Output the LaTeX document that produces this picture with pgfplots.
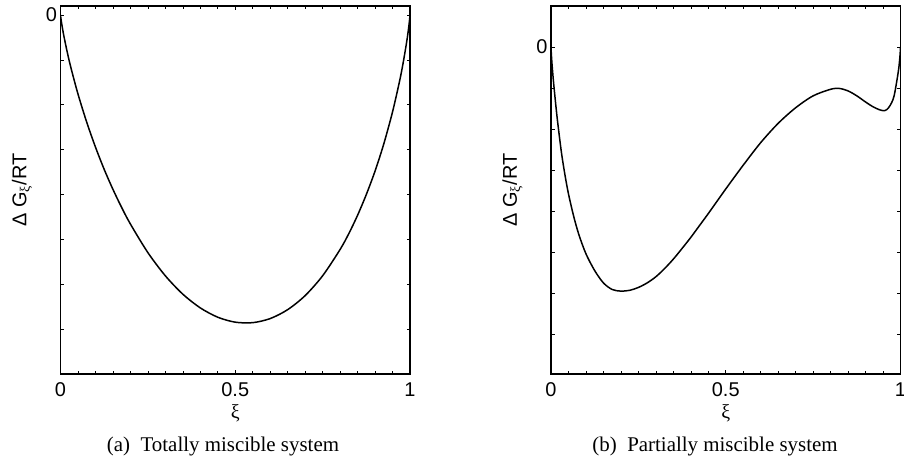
\documentclass[border=0pt]{standalone}
\usepackage{fontspec}
\setmainfont{Liberation Sans}
\newfontfamily\serif{Liberation Serif}
\usepackage{pgfplots}
\pgfplotsset{compat=1.18}

\pgfplotsset{
  gplot/.style={
    scale only axis,
    width=349.5bp, height=368bp,
    xmin=0, xmax=1,
    xtick={0,0.5,1}, xticklabels={0,0.5,1},
    minor xtick={0.05,0.1,0.15,0.2,0.25,0.3,0.35,0.4,0.45,0.55,0.6,0.65,0.7,0.75,0.8,0.85,0.9,0.95},
    ytick={-7,-6,-5,-4,-3,-2,-1,0},
    yticklabels={,,,,,,,0},
    tick align=inside,
    major tick length=3.5bp, minor tick length=3bp,
    tick style={black, line width=0.6bp},
    axis line style={line width=1.3bp},
    /pgf/number format/assume math mode=true,
    ticklabel style={font=\fontsize{20}{24}\selectfont},
    xticklabel style={yshift=-5bp},
    label style={font=\fontsize{20}{24}\selectfont},
    xlabel={{\serif ξ}},
    xlabel style={at={(axis description cs:0.5,-0.108)}, anchor=center},
    ylabel={Δ G\textsubscript{\serif ξ}/RT},
    ylabel style={at={(axis description cs:-0.11,0.5)}, anchor=center},
  }
}

\begin{document}
\begin{tikzpicture}
\useasboundingbox (0,0) rectangle (904bp,472bp);

\begin{axis}[gplot, at={(60.5bp,98bp)}, anchor=south west, ymin=-8, ymax=0.2]
\addplot[black, line width=1.5bp, smooth] coordinates {
(0,0) (0.001,-0.066) (0.002,-0.122) (0.005,-0.268) (0.01,-0.482) (0.02,-0.853)
(0.03,-1.181) (0.05,-1.761) (0.075,-2.389) (0.1,-2.943) (0.125,-3.44) (0.15,-3.885)
(0.175,-4.29) (0.2,-4.658) (0.25,-5.295) (0.3,-5.812) (0.35,-6.221) (0.4,-6.527)
(0.45,-6.735) (0.5,-6.845) (0.55,-6.856) (0.6,-6.765) (0.65,-6.566) (0.7,-6.253)
(0.75,-5.811) (0.8,-5.225) (0.825,-4.87) (0.85,-4.463) (0.875,-4.00) (0.9,-3.478)
(0.925,-2.872) (0.95,-2.160) (0.97,-1.480) (0.98,-1.084) (0.99,-0.624)
(0.995,-0.353) (0.998,-0.163) (0.999,-0.09) (1,0)
};
\end{axis}

\begin{axis}[gplot, at={(551bp,98bp)}, anchor=south west, ymin=-7.97, ymax=1.0]
\addplot[black, line width=1.5bp, smooth] coordinates {
(0,0) (0.001,-0.18) (0.003,-0.43) (0.006,-0.74) (0.01,-1.1) (0.015,-1.52)
(0.02,-1.9) (0.03,-2.58) (0.04,-3.12) (0.05,-3.58) (0.065,-4.13) (0.08,-4.58)
(0.1,-5.04) (0.125,-5.45) (0.15,-5.75) (0.175,-5.91) (0.2,-5.95) (0.225,-5.93)
(0.25,-5.86) (0.275,-5.75) (0.3,-5.60) (0.325,-5.40) (0.35,-5.17) (0.375,-4.91)
(0.4,-4.64) (0.425,-4.35) (0.45,-4.06) (0.5,-3.46)
(0.55,-2.88) (0.6,-2.33) (0.65,-1.86) (0.7,-1.48) (0.75,-1.19) (0.8,-1.03)
(0.825,-1.01) (0.85,-1.07) (0.875,-1.19) (0.9,-1.34) (0.92,-1.45) (0.94,-1.53)
(0.955,-1.55) (0.965,-1.49) (0.975,-1.35) (0.982,-1.18) (0.99,-0.8)
(0.995,-0.52) (0.998,-0.27) (0.999,-0.16) (1,0)
};
\end{axis}

\node[anchor=base, font=\serif\fontsize{21}{25}\selectfont] at (223bp,21bp) {(a)\enspace Totally miscible system};
\node[anchor=base, font=\serif\fontsize{21}{25}\selectfont] at (715bp,21bp) {(b)\enspace Partially miscible system};
\end{tikzpicture}
\end{document}
